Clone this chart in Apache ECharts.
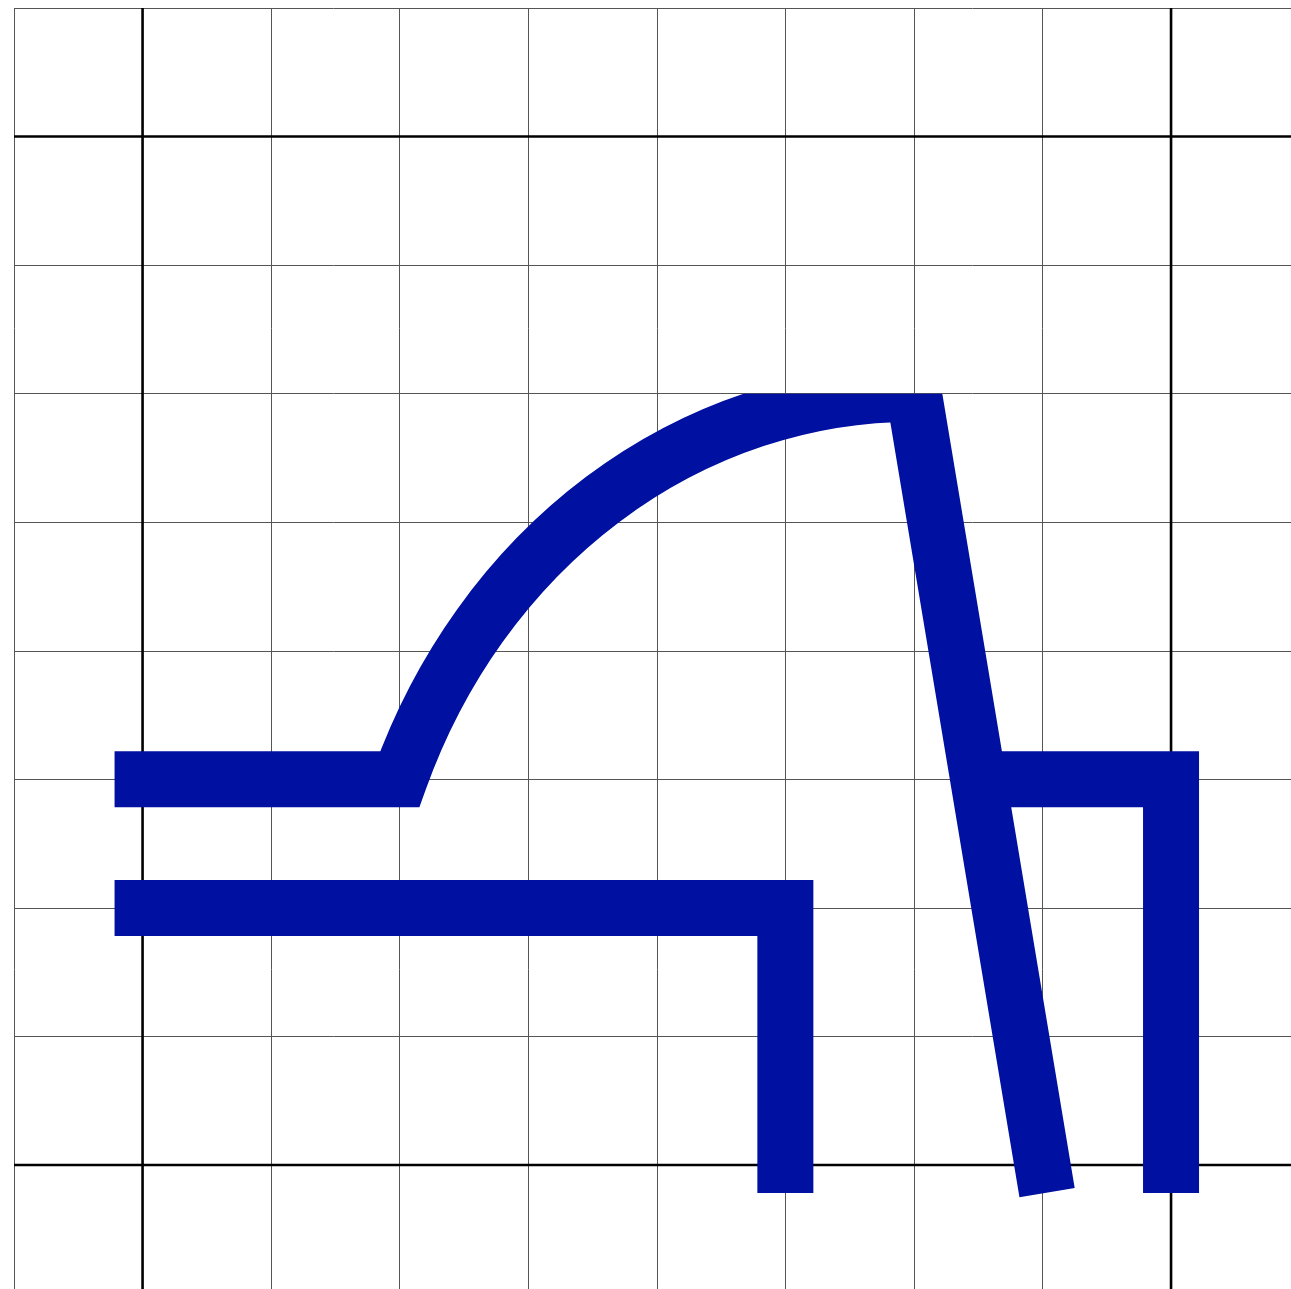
<!DOCTYPE html>
<html>
<head>
<meta charset="utf-8">
<script src="https://cdn.jsdelivr.net/npm/echarts@6/dist/echarts.min.js"></script>
<style>html,body{margin:0;padding:0;background:#fff;overflow:hidden;}#c{width:1291px;height:1289px;}</style>
</head>
<body>
<div id="c"></div>
<script>
// ---- data (grid units) ----
const upperPoints = [[0, 3], [2, 3], [6, 6], [7, 0]];   // bar, bend (elliptic arc between pt 2 and 3), diagonal
const upperArc = [4.3, 4.74];                            // ellipse radii of the bend
const lowerPoints = [[0, 2], [5, 2], [5, 0]];
const rightPoints = [[6.7, 3], [8, 3], [8, 0]];
const frameXs = [0, 8];
const frameYs = [0, 8];

const BLUE = '#0010A0';
const UNIT = 128.56;

const chart = echarts.init(document.getElementById('c'), null, {renderer: 'canvas'});

function polyPath(api, pts) {
  const p = pts.map(pt => api.coord(pt));
  return 'M' + p.map(q => q[0] + ' ' + q[1]).join(' L');
}
function strokeStyle() {
  return {fill: 'none', stroke: BLUE, lineWidth: 56, lineCap: 'square', lineJoin: 'miter', miterLimit: 10};
}

const gridLeft = 14, gridTop = 8;
const option = {
  backgroundColor: '#fff',
  animation: false,
  grid: [
    {left: gridLeft, top: gridTop, width: 10 * UNIT, height: 10 * UNIT, containLabel: false, outerBoundsMode: 'none'},
    {left: gridLeft, top: gridTop + 3 * UNIT, width: 10 * UNIT, height: 7 * UNIT, containLabel: false, outerBoundsMode: 'none'}
  ],
  xAxis: [
    {type: 'value', gridIndex: 0, min: -1, max: 9, interval: 1,
     axisLine: {show: false}, axisTick: {show: false}, axisLabel: {show: false},
     splitLine: {show: true, lineStyle: {color: '#555', width: 1}}},
    {type: 'value', gridIndex: 1, min: -1, max: 9, interval: 1, show: false, splitLine: {show: false}}
  ],
  yAxis: [
    {type: 'value', gridIndex: 0, min: -1, max: 9, interval: 1,
     axisLine: {show: false}, axisTick: {show: false}, axisLabel: {show: false},
     splitLine: {show: true, lineStyle: {color: '#555', width: 1}}},
    {type: 'value', gridIndex: 1, min: -1, max: 6, interval: 1, show: false, splitLine: {show: false}}
  ],
  series: [
    {
      type: 'custom', xAxisIndex: 0, yAxisIndex: 0, z: 1, silent: true, clip: true,
      data: [[0, 0]],
      renderItem: function (params, api) {
        const children = [];
        frameXs.forEach(x => {
          const a = api.coord([x, -1]), b = api.coord([x, 9]);
          children.push({type: 'line', shape: {x1: a[0], y1: a[1], x2: b[0], y2: b[1]},
            style: {stroke: '#000', lineWidth: 2.6}});
        });
        frameYs.forEach(y => {
          const a = api.coord([-1, y]), b = api.coord([9, y]);
          children.push({type: 'line', shape: {x1: a[0], y1: a[1], x2: b[0], y2: b[1]},
            style: {stroke: '#000', lineWidth: 2.6}});
        });
        return {type: 'group', children: children};
      }
    },
    {
      type: 'custom', xAxisIndex: 1, yAxisIndex: 1, z: 3, silent: true, clip: true,
      data: [[0, 0]],
      renderItem: function (params, api) {
        return {type: 'path', shape: {pathData: polyPath(api, lowerPoints)}, style: strokeStyle()};
      }
    },
    {
      type: 'custom', xAxisIndex: 1, yAxisIndex: 1, z: 3, silent: true, clip: true,
      data: [[0, 0]],
      renderItem: function (params, api) {
        return {type: 'path', shape: {pathData: polyPath(api, rightPoints)}, style: strokeStyle()};
      }
    },
    {
      type: 'custom', xAxisIndex: 1, yAxisIndex: 1, z: 4, silent: true, clip: true,
      data: [[0, 0]],
      renderItem: function (params, api) {
        const p = upperPoints.map(pt => api.coord(pt));
        const rx = api.size([upperArc[0], 0])[0];
        const ry = api.size([0, upperArc[1]])[1];
        const d = 'M' + p[0][0] + ' ' + p[0][1] +
          ' L' + p[1][0] + ' ' + p[1][1] +
          ' A' + rx + ' ' + ry + ' 0 0 1 ' + p[2][0] + ' ' + p[2][1] +
          ' L' + p[3][0] + ' ' + p[3][1];
        return {type: 'path', shape: {pathData: d}, style: strokeStyle()};
      }
    }
  ]
};
chart.setOption(option);
</script>
</body>
</html>
